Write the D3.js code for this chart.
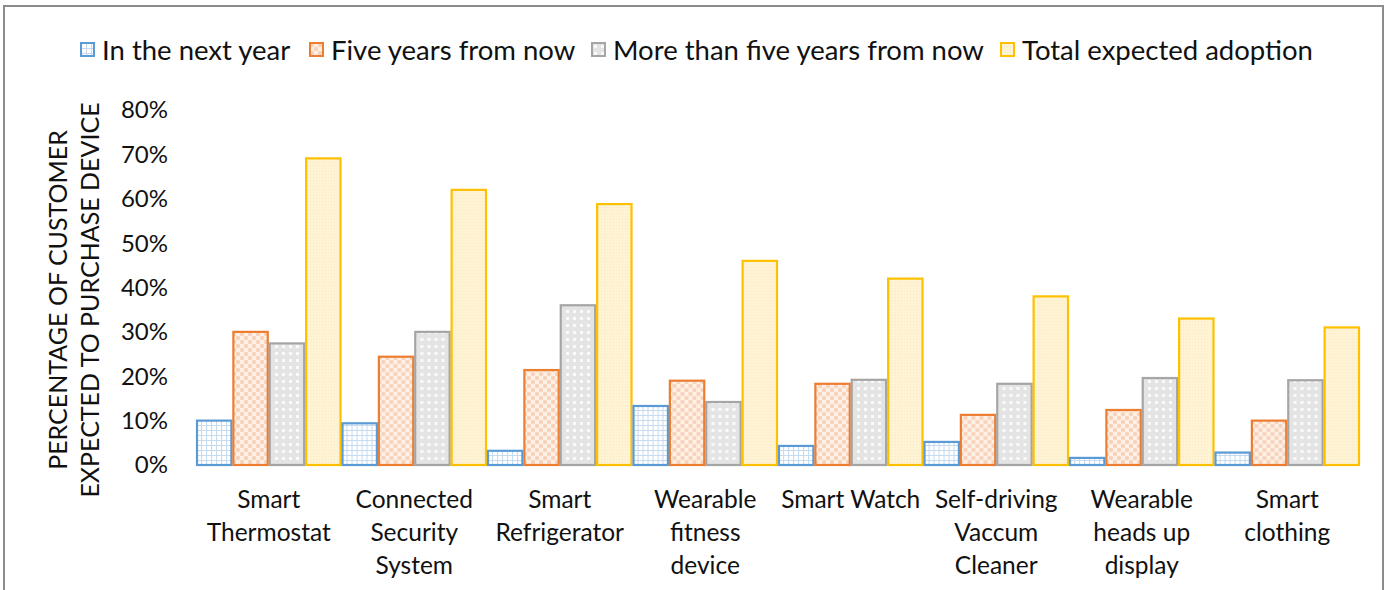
<!DOCTYPE html>
<html>
<head>
<meta charset="utf-8">
<script src="https://cdn.jsdelivr.net/npm/d3@7"></script>
<style>
  body { margin: 0; background: #fff; }
  text { font-family: Lato, "Open Sans", sans-serif; fill: #111; }
</style>
</head>
<body>
<div id="chart"></div>
<script>
// categories and series
const categories = [
  ["Smart", "Thermostat"],
  ["Connected", "Security", "System"],
  ["Smart", "Refrigerator"],
  ["Wearable", "fitness", "device"],
  ["Smart Watch"],
  ["Self-driving", "Vaccum", "Cleaner"],
  ["Wearable", "heads up", "display"],
  ["Smart", "clothing"]
];
const seriesNames = ["In the next year", "Five years from now", "More than five years from now", "Total expected adoption"];
const nextYear  = [0.10, 0.094, 0.032, 0.133, 0.043, 0.052, 0.016, 0.028];
const fiveYears = [0.30, 0.244, 0.214, 0.19, 0.183, 0.113, 0.124, 0.10];
const moreThan  = [0.274, 0.30, 0.36, 0.142, 0.192, 0.183, 0.196, 0.191];
const total     = [0.691, 0.62, 0.588, 0.46, 0.42, 0.38, 0.33, 0.31];
const yTicks = [0, 0.1, 0.2, 0.3, 0.4, 0.5, 0.6, 0.7, 0.8];

const values = [nextYear, fiveYears, moreThan, total];
const strokes = ["#5B9BD5", "#ED7D31", "#A5A5A5", "#FFC000"];

const width = 1389, height = 590;
const svg = d3.select("#chart").append("svg")
  .attr("width", width).attr("height", height);

// frame
svg.append("path")
  .attr("d", "M4,600 V6 H1383 V600")
  .attr("fill", "none").attr("stroke", "#8c8c8c").attr("stroke-width", 2);

// patterns
const defs = svg.append("defs");
const p0 = defs.append("pattern").attr("id", "pat0").attr("patternUnits", "userSpaceOnUse").attr("width", 5).attr("height", 5);
p0.append("rect").attr("width", 5).attr("height", 5).attr("fill", "#fff");
p0.append("path").attr("d", "M0,0.5 H5 M0.5,0 V5").attr("stroke", "#c6daf0").attr("stroke-width", 1.2);

const p1 = defs.append("pattern").attr("id", "pat1").attr("patternUnits", "userSpaceOnUse").attr("width", 8).attr("height", 8);
p1.append("rect").attr("width", 8).attr("height", 8).attr("fill", "#fdf0e6");
p1.append("circle").attr("cx", 2).attr("cy", 2).attr("r", 2.2).attr("fill", "#f7d3bb");
p1.append("circle").attr("cx", 6).attr("cy", 6).attr("r", 2.2).attr("fill", "#f7d3bb");

const p2 = defs.append("pattern").attr("id", "pat2").attr("patternUnits", "userSpaceOnUse").attr("width", 7).attr("height", 7);
p2.append("rect").attr("width", 7).attr("height", 7).attr("fill", "#e4e4e4");
p2.append("rect").attr("x", 2).attr("y", 2).attr("width", 3).attr("height", 3).attr("fill", "#fafafa");

const p3 = defs.append("pattern").attr("id", "pat3").attr("patternUnits", "userSpaceOnUse").attr("width", 3).attr("height", 3);
p3.append("rect").attr("width", 3).attr("height", 3).attr("fill", "#fff3d6");
p3.append("rect").attr("width", 1).attr("height", 1).attr("fill", "#fde9b8");

// scales
const x0 = d3.scaleBand().domain(d3.range(categories.length)).range([196, 1360]).padding(0);
const x1 = d3.scaleBand().domain(d3.range(values.length)).range([0, x0.bandwidth()]).padding(0);
const y = d3.scaleLinear().domain([0, 0.8]).range([465, 110]);

// y axis labels
svg.append("g").selectAll("text")
  .data(yTicks)
  .join("text")
    .attr("x", 168)
    .attr("y", d => y(d))
    .attr("dy", "0.35em")
    .attr("text-anchor", "end")
    .style("font-size", "24px")
    .text(d => d3.format(".0%")(d));

// y axis title
const yt = svg.append("text")
  .attr("transform", "translate(0,300) rotate(-90)")
  .attr("text-anchor", "middle")
  .style("font-size", "25px");
yt.append("tspan").attr("x", 0).attr("y", 67).text("PERCENTAGE OF CUSTOMER");
yt.append("tspan").attr("x", 0).attr("y", 99).text("EXPECTED TO PURCHASE DEVICE");

// bars
const groups = svg.append("g").selectAll("g")
  .data(categories.map((c, i) => i))
  .join("g")
    .attr("transform", i => `translate(${x0(i)},0)`);

groups.selectAll("rect")
  .data(i => values.map((s, k) => ({k, v: s[i]})))
  .join("rect")
    .attr("x", d => x1(d.k) + 1)
    .attr("y", d => y(d.v))
    .attr("width", x1.bandwidth() - 2)
    .attr("height", d => y(0) - y(d.v))
    .attr("fill", d => `url(#pat${d.k})`)
    .attr("stroke", d => strokes[d.k])
    .attr("stroke-width", 2.2);

// category labels
svg.append("g").selectAll("text")
  .data(categories)
  .join("text")
    .attr("text-anchor", "middle")
    .style("font-size", "24.5px")
    .attr("transform", (d, i) => `translate(${x0(i) + x0.bandwidth() / 2},508)`)
  .selectAll("tspan")
  .data(d => d)
  .join("tspan")
    .attr("x", 0)
    .attr("y", (d, j) => j * 33)
    .text(d => d);

// legend
const legendX = [81, 310, 592, 1001];
const lg = svg.append("g").selectAll("g")
  .data(seriesNames)
  .join("g")
    .attr("transform", (d, i) => `translate(${legendX[i]},43)`);
lg.append("rect")
  .attr("width", 13).attr("height", 13)
  .attr("fill", (d, i) => `url(#pat${i})`)
  .attr("stroke", (d, i) => strokes[i])
  .attr("stroke-width", 2);
lg.append("text")
  .attr("x", 21).attr("y", 7).attr("dy", "0.35em")
  .style("font-size", "27.5px")
  .text(d => d);
</script>
</body>
</html>
